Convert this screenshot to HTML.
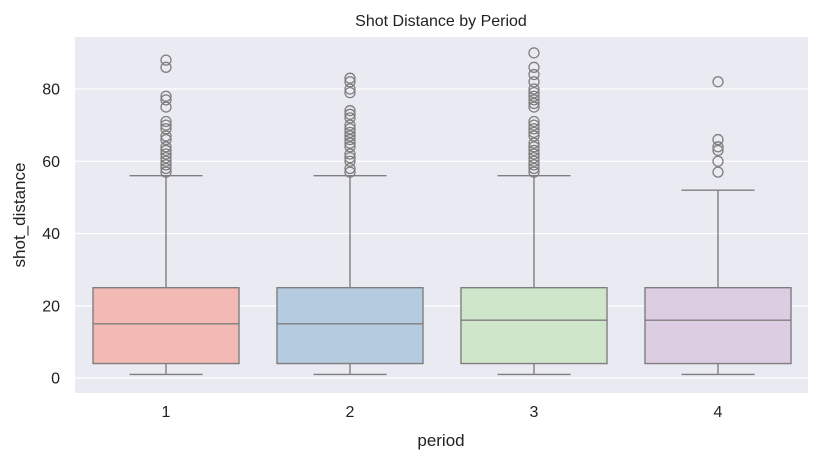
<!DOCTYPE html>
<html><head><meta charset="utf-8"><style>
body{margin:0;background:#fff;}
svg{display:block;font-family:"Liberation Sans","DejaVu Sans",sans-serif;}
</style></head><body>
<svg id="chart" width="821" height="463">
<rect x="75" y="37" width="733" height="356" fill="#eaeaf2"/>
<g id="grid"></g><g id="boxes"></g><g id="ticks"></g>
<text x="441" y="26" text-anchor="middle" font-size="16" fill="#222">Shot Distance by Period</text>
<text x="441" y="446" text-anchor="middle" font-size="17" fill="#222">period</text>
<text transform="translate(25,215) rotate(-90)" text-anchor="middle" font-size="17" fill="#222">shot_distance</text>
</svg>
<script>
const categories=["1","2","3","4"];
const mins=[1,1,1,1];
const q1s=[4,4,4,4];
const medians=[15,15,16,16];
const q3s=[25,25,25,25];
const maxs=[56,56,56,52];
const outliers=[
[88,86,78,77,75,71,70,69,67,66,64,63,62,61,60,59,58,57],
[83,82,80,79,74,73,72,70,69,68,67,66,65,64,62,61,60,58,57],
[90,86,84,82,80,79,78,77,76,75,71,70,69,68,67,65,64,63,62,61,60,59,58,57],
[82,66,64,63,60,57]];
const colors=["#f2b9b5","#b5cbdf","#cfe6cb","#dccde3"];
const yTicks=[0,20,40,60,80];
const NS="http://www.w3.org/2000/svg";
const y=v=>378-v*3.6125;
const x=i=>166+i*184;
function mk(tag,attrs,parent){const e=document.createElementNS(NS,tag);for(const k in attrs)e.setAttribute(k,attrs[k]);parent.appendChild(e);return e;}
const grid=document.getElementById('grid'),boxes=document.getElementById('boxes'),ticks=document.getElementById('ticks');
yTicks.forEach(t=>{
 const l=mk('line',{x1:75,x2:808,y1:y(t),y2:y(t),stroke:'#fff','stroke-width':1.3},grid);
 
 
 const tx=mk('text',{x:60,y:y(t)+5.5,'text-anchor':'end','font-size':16,fill:'#222'},ticks);
 tx.textContent=t;
 
 
});
categories.forEach((c,i)=>{
 const cx=x(i),hw=73,g=mk('g',{},boxes);
 
 
 const st={stroke:'#7f7f7f','stroke-width':1.4,fill:'none'};
 mk('line',Object.assign({x1:cx,x2:cx,y1:y(q1s[i]),y2:y(mins[i])},st),g);
 mk('line',Object.assign({x1:cx,x2:cx,y1:y(q3s[i]),y2:y(maxs[i])},st),g);
 mk('line',Object.assign({x1:cx-hw/2,x2:cx+hw/2,y1:y(mins[i]),y2:y(mins[i])},st),g);
 mk('line',Object.assign({x1:cx-hw/2,x2:cx+hw/2,y1:y(maxs[i]),y2:y(maxs[i])},st),g);
 mk('rect',{x:cx-hw,y:y(q3s[i]),width:hw*2,height:y(q1s[i])-y(q3s[i]),fill:colors[i],stroke:'#7f7f7f','stroke-width':1.4},g);
 mk('line',Object.assign({x1:cx-hw,x2:cx+hw,y1:y(medians[i]),y2:y(medians[i])},st),g);
 outliers[i].forEach(v=>{
  const p=mk('circle',{cx:cx,cy:y(v),r:5,fill:'none',stroke:'#7f7f7f','stroke-width':1.3},g);
  
  
 });
 const tx=mk('text',{x:cx,y:417,'text-anchor':'middle','font-size':16,fill:'#222'},ticks);
 tx.textContent=c;
 
 
});
</script>
</body></html>
